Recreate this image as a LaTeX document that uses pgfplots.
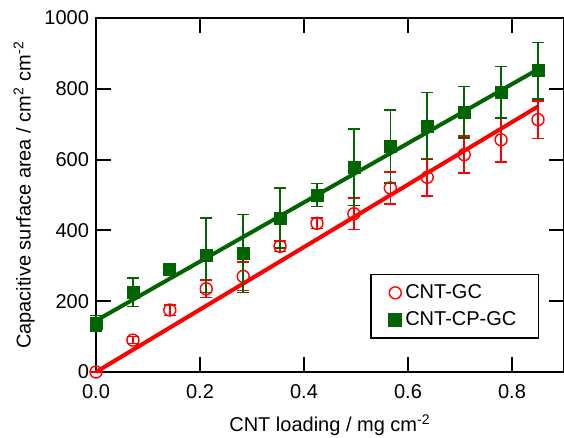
\documentclass[border=0pt]{standalone}
\usepackage{fontspec}
\setmainfont{Liberation Sans}
\usepackage{pgfplots}
\pgfplotsset{compat=1.18}
\definecolor{gcred}{HTML}{FF0000}
\definecolor{cpgreen}{HTML}{006400}

% loading (mg cm-2), area, error
\pgfplotstableread{
x      y    e
0.000  0    0
0.071  90   10
0.142  175  15
0.212  235  25
0.283  270  40
0.354  355  15
0.425  420  15
0.496  447  45
0.566  520  45
0.637  550  52
0.708  614  52
0.779  656  62
0.850  713  53
}\gcdata
\pgfplotstableread{
x      y    e
0.000  138  22
0.071  225  40
0.142  290  5
0.212  330  105
0.283  335  110
0.354  435  85
0.425  500  32
0.496  578  108
0.566  637  103
0.637  695  95
0.708  734  73
0.779  790  73
0.850  851  80
}\cpdata

\begin{document}
\begin{tikzpicture}
\useasboundingbox (-48pt,-33pt) rectangle (234pt,186pt);
\begin{axis}[
  at={(0,0)}, anchor=south west,
  scale only axis, width=234pt, height=177pt,
  xmin=0, xmax=0.9, ymin=0, ymax=1000,
  xtick={0,0.2,0.4,0.6,0.8}, ytick={0,200,400,600,800,1000},
  tick align=inside, major tick length=7.5pt,
  xtick pos=both, ytick pos=both,
  axis line style={line width=1pt}, tick style={line width=1pt, black},
  tick label style={font=\fontsize{10}{11}\selectfont},
  label style={font=\fontsize{10}{11}\selectfont},
  /pgf/number format/assume math mode=true,
  x tick label style={yshift=-2.5pt, /pgf/number format/.cd, fixed, fixed zerofill, precision=1},
  y tick label style={/pgf/number format/.cd, fixed, precision=0, 1000 sep={}},
  xlabel={CNT loading / mg cm\textsuperscript{-2}},
  xlabel style={yshift=-1.5pt},
  ylabel={Capacitive surface area / cm\textsuperscript{2} cm\textsuperscript{-2}},
  ylabel style={yshift=-2pt},
  clip=false,
  legend style={at={(0.947,0.093)}, anchor=south east, draw=black, line width=0.8pt,
    font=\fontsize{10}{11}\selectfont, row sep=1pt, inner xsep=9pt, inner ysep=3pt,
    /tikz/every even column/.append style={column sep=4pt}},
  legend cell align=left,
]
\addplot[cpgreen, line width=2pt, forget plot] coordinates {(0,145) (0.85,855)};
\addplot[gcred, line width=2pt, forget plot] coordinates {(0,0) (0.85,750)};
\addplot[only marks, mark=o, mark size=3pt, gcred, mark options={line width=0.7pt},
  error bars/.cd, y dir=both, y explicit, error mark options={rotate=90, mark size=3pt, line width=0.8pt},
  error bar style={line width=0.8pt}]
  table[x=x, y=y, y error=e] {\gcdata};
\addlegendentry{CNT-GC}
\addplot[only marks, mark=square*, mark size=3pt, cpgreen,
  error bars/.cd, y dir=both, y explicit, error mark options={rotate=90, mark size=3pt, line width=0.8pt},
  error bar style={line width=0.8pt}]
  table[x=x, y=y, y error=e] {\cpdata};
\addlegendentry{CNT-CP-GC}
\end{axis}
\end{tikzpicture}
\end{document}
